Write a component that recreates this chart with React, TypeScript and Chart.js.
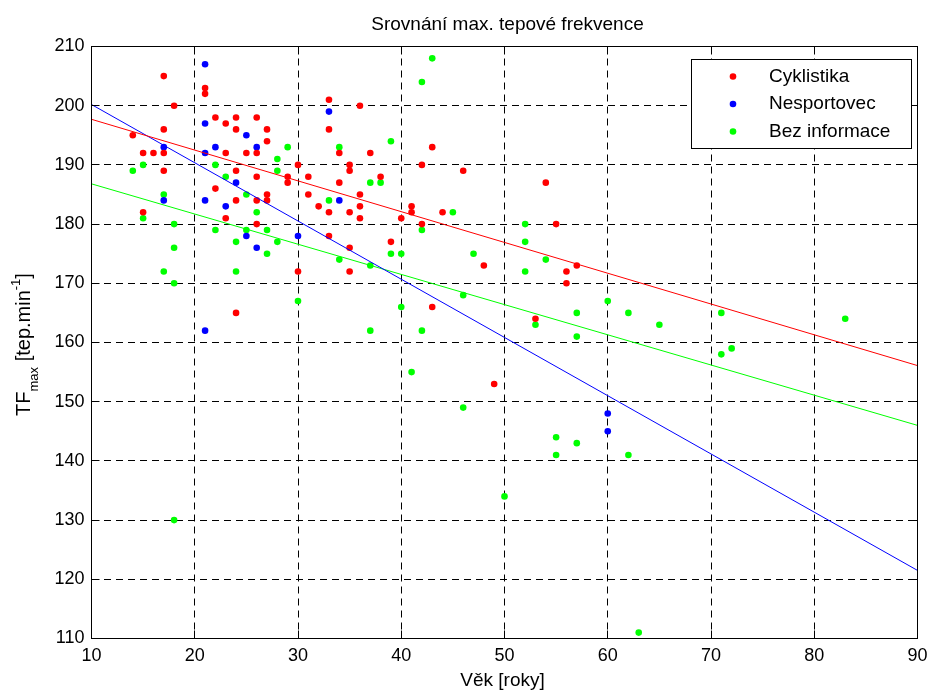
import React, { useEffect, useRef } from "react";
import { Chart, registerables } from "chart.js";

Chart.register(...registerables);

// ---- Data ----
const titleText = "Srovnání max. tepové frekvence";
const xAxisLabel = "Věk [roky]";
const seriesLabels = ["Cyklistika", "Nesportovec", "Bez informace"];
const seriesColors = ["#ff0000", "#0000ff", "#00ff00"];

const xTicks = [10, 20, 30, 40, 50, 60, 70, 80, 90];
const yTicks = [110, 120, 130, 140, 150, 160, 170, 180, 190, 200, 210];

const cyklistikaAge = [
  17, 21, 21, 18, 22, 23, 24, 26, 24, 27, 27, 14, 17, 15, 16, 17, 23, 25, 26, 30,
  29, 29, 31, 17, 24, 26, 22, 27, 27, 24, 26, 15, 23, 26, 30, 24,
  33, 36, 33, 34, 37, 43, 35, 35, 42, 46, 38, 34, 31, 36, 32, 36, 33, 35, 41, 41,
  44, 36, 40, 42, 33, 39, 35, 35, 48, 43, 49, 54, 55, 57, 56, 56, 53,
];
const cyklistikaTF = [
  205, 203, 202, 200, 198, 197, 198, 198, 196, 196, 194, 195, 196, 192, 192, 192, 192, 192, 192, 190,
  188, 187, 188, 189, 189, 188, 186, 185, 184, 184, 184, 182, 181, 180, 172, 165,
  201, 200, 196, 192, 192, 193, 190, 189, 190, 189, 188, 187, 185, 185, 183, 183, 182, 182, 183, 182,
  182, 181, 181, 180, 178, 177, 176, 172, 173, 166, 153, 187, 180, 173, 172, 170, 164,
];

const nesportovecAge = [21, 21, 25, 17, 21, 22, 26, 24, 21, 17, 23, 25, 30, 26, 21, 33, 34, 60, 60];
const nesportovecTF = [207, 197, 195, 193, 192, 193, 193, 187, 184, 184, 183, 178, 178, 176, 162, 199, 184, 148, 145];

const bezInfoAge = [
  29, 28, 28, 22, 14, 15, 23, 25, 17, 26, 15, 18, 22, 25, 27, 24, 28, 18, 27, 17, 24, 18, 30,
  43, 42, 39, 34, 37, 38, 33, 45, 42,
  39, 40, 34, 37, 47, 46, 40, 37, 42, 41, 46,
  52, 52, 54, 52, 60, 57, 62, 65, 71, 53, 57, 83, 72, 71,
  55, 57, 55, 62, 50, 18, 63,
];
const bezInfoTF = [
  193, 191, 189, 190, 189, 190, 188, 185, 185, 182, 181, 180, 179, 179, 179, 177, 177, 176, 175, 172, 172, 170, 167,
  208, 204, 194, 193, 187, 187, 184, 182, 179,
  175, 175, 174, 173, 175, 168, 166, 162, 162, 155, 149,
  180, 177, 174, 172, 167, 165, 165, 163, 165, 163, 161, 164, 159, 158,
  144, 143, 141, 141, 134, 130, 111,
];

// regression lines (end values)
const fitAge = [10, 90];
const cyklistikaFit = [197.7, 156.1];
const nesportovecFit = [200.2, 121.5];
const bezInfoFit = [186.8, 146.0];

const FONT = '"Liberation Sans", Arial, Helvetica, sans-serif';

const toPoints = (xs: number[], ys: number[]) => xs.map((x, i) => ({ x, y: ys[i] }));

const alignPx = (p: number) => Math.round(p - 0.5) + 0.5;

const matlabPlugin = {
  id: "matlabDecor",
  afterDraw(chart: any) {
    const { ctx, chartArea } = chart;
    const { left, right, top, bottom } = chartArea;
    const xs = chart.scales.x;
    const ys = chart.scales.y;
    ctx.save();
    // inner tick marks on all four sides
    ctx.strokeStyle = "#000";
    ctx.lineWidth = 1;
    ctx.setLineDash([]);
    ctx.beginPath();
    const tl = 8;
    xTicks.forEach((v) => {
      const px = alignPx(xs.getPixelForValue(v));
      ctx.moveTo(px, bottom);
      ctx.lineTo(px, bottom - tl);
      ctx.moveTo(px, top);
      ctx.lineTo(px, top + tl);
    });
    yTicks.forEach((v) => {
      const py = alignPx(ys.getPixelForValue(v));
      ctx.moveTo(left, py);
      ctx.lineTo(left + tl, py);
      ctx.moveTo(right, py);
      ctx.lineTo(right - tl, py);
    });
    ctx.stroke();
    // axes box
    ctx.strokeRect(left, top, right - left, bottom - top);

    // title
    ctx.fillStyle = "#000";
    ctx.textAlign = "center";
    ctx.textBaseline = "alphabetic";
    ctx.font = `19px ${FONT}`;
    ctx.fillText(titleText, (left + right) / 2 + 3, 30);
    // x label
    ctx.fillText(xAxisLabel, (left + right) / 2 - 2, 686);

    // y label with subscript / superscript
    const big = `20px ${FONT}`;
    const small = `13px ${FONT}`;
    const parts = [
      { t: "TF", f: big, dy: 0 },
      { t: "max", f: small, dy: 8 },
      { t: " [tep.min", f: big, dy: 0 },
      { t: "-1", f: small, dy: -10 },
      { t: "]", f: big, dy: 0 },
    ];
    let total = 0;
    const widths = parts.map((p) => {
      ctx.font = p.f;
      const w = ctx.measureText(p.t).width;
      total += w;
      return w;
    });
    ctx.save();
    ctx.translate(30, (top + bottom) / 2 + 2);
    ctx.rotate(-Math.PI / 2);
    ctx.textAlign = "left";
    let cx = -total / 2;
    parts.forEach((p, i) => {
      ctx.font = p.f;
      ctx.fillText(p.t, cx, p.dy);
      cx += widths[i];
    });
    ctx.restore();

    // legend
    const lx = 691.5, ly = 59.5, lw = 220, lh = 89;
    ctx.fillStyle = "#fff";
    ctx.fillRect(lx, ly, lw, lh);
    ctx.strokeStyle = "#000";
    ctx.lineWidth = 1;
    ctx.strokeRect(lx, ly, lw, lh);
    const rows = [76.5, 104, 131.5];
    ctx.font = `19px ${FONT}`;
    ctx.textAlign = "left";
    ctx.textBaseline = "middle";
    seriesLabels.forEach((lab, i) => {
      ctx.fillStyle = seriesColors[i];
      ctx.beginPath();
      ctx.arc(733, rows[i], 3.3, 0, Math.PI * 2);
      ctx.fill();
      ctx.fillStyle = "#000";
      ctx.fillText(lab, 769, rows[i]);
    });
    ctx.restore();
  },
};

export default function App() {
  const ref = useRef<HTMLCanvasElement | null>(null);

  useEffect(() => {
    if (!ref.current) return;
    const scatterDs = (label: string, xs: number[], ys: number[], color: string) => ({
      label,
      data: toPoints(xs, ys),
      backgroundColor: color,
      borderColor: color,
      pointRadius: 3.3,
      pointBorderWidth: 0,
      pointHoverRadius: 3.3,
      showLine: false,
      order: 1,
    });
    const lineDs = (label: string, ys: number[], color: string) => ({
      label,
      data: toPoints(fitAge, ys),
      borderColor: color,
      backgroundColor: color,
      borderWidth: 1,
      pointRadius: 0,
      showLine: true,
      fill: false,
      tension: 0,
      order: 0,
    });
    const tickFont = { family: FONT, size: 18 };
    const chart = new Chart(ref.current, {
      type: "scatter",
      data: {
        datasets: [
          scatterDs(seriesLabels[0], cyklistikaAge, cyklistikaTF, seriesColors[0]),
          scatterDs(seriesLabels[1], nesportovecAge, nesportovecTF, seriesColors[1]),
          scatterDs(seriesLabels[2], bezInfoAge, bezInfoTF, seriesColors[2]),
          lineDs(seriesLabels[0] + " fit", cyklistikaFit, seriesColors[0]),
          lineDs(seriesLabels[1] + " fit", nesportovecFit, seriesColors[1]),
          lineDs(seriesLabels[2] + " fit", bezInfoFit, seriesColors[2]),
        ] as any,
      },
      options: {
        animation: false,
        responsive: false,
        maintainAspectRatio: false,
        events: [],
        layout: { padding: { top: 46.5, right: 11.5, left: 0, bottom: 0 } },
        plugins: {
          legend: { display: false },
          title: { display: false },
          tooltip: { enabled: false },
        },
        scales: {
          x: {
            type: "linear",
            min: 10,
            max: 90,
            afterBuildTicks: (s: any) => {
              s.ticks = xTicks.map((v) => ({ value: v }));
            },
            grid: { color: "#000", lineWidth: 1, drawTicks: false },
            border: { display: false, dash: [7, 5] },
            ticks: { padding: 7, font: tickFont, color: "#000", autoSkip: false, maxRotation: 0 },
            afterFit: (s: any) => {
              s.height = 51.5;
              s.paddingLeft = 0;
              s.paddingRight = 0;
            },
          },
          y: {
            type: "linear",
            min: 110,
            max: 210,
            afterBuildTicks: (s: any) => {
              s.ticks = yTicks.map((v) => ({ value: v }));
            },
            grid: { color: "#000", lineWidth: 1, drawTicks: false },
            border: { display: false, dash: [7, 5] },
            ticks: { padding: 7, font: tickFont, color: "#000", autoSkip: false },
            afterFit: (s: any) => {
              s.width = 91.5;
              s.paddingTop = 0;
              s.paddingBottom = 0;
            },
          },
        },
      } as any,
      plugins: [matlabPlugin],
    });
    return () => chart.destroy();
  }, []);

  return (
    <div style={{ position: "absolute", left: 0, top: 0, width: 929, height: 690, background: "#fff" }}>
      <canvas ref={ref} width={929} height={690} style={{ display: "block" }} />
    </div>
  );
}
